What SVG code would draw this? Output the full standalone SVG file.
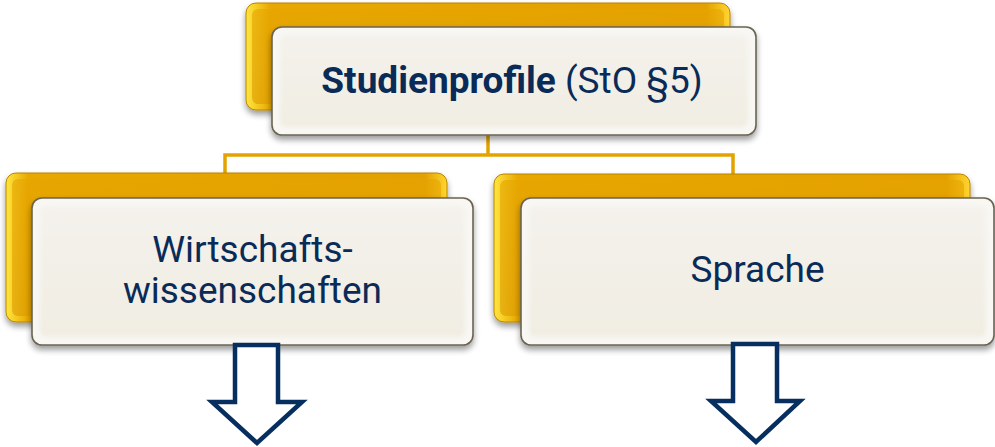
<svg xmlns="http://www.w3.org/2000/svg" width="995" height="447" viewBox="0 0 995 447">
<defs>
<linearGradient id="gold" x1="0" y1="0" x2="0" y2="1">
<stop offset="0" stop-color="#E6A400"/>
<stop offset="1" stop-color="#DB9A00"/>
</linearGradient>
<linearGradient id="goldEdge" x1="0" y1="0" x2="1" y2="0">
<stop offset="0" stop-color="#FFE640"/>
<stop offset="0.05" stop-color="#E8A800"/>
<stop offset="0.95" stop-color="#E3A000"/>
<stop offset="1" stop-color="#FFD630"/>
</linearGradient>
<linearGradient id="face" x1="0" y1="0" x2="0" y2="1">
<stop offset="0" stop-color="#F4F2EC"/>
<stop offset="1" stop-color="#F1EDE3"/>
</linearGradient>
<filter id="shadow" x="-10%" y="-20%" width="120%" height="150%">
<feGaussianBlur in="SourceAlpha" stdDeviation="3"/>
<feOffset dx="0" dy="4" result="b"/>
<feComponentTransfer><feFuncA type="linear" slope="0.4"/></feComponentTransfer>
<feMerge><feMergeNode/><feMergeNode in="SourceGraphic"/></feMerge>
</filter>
<filter id="soft" x="-5%" y="-5%" width="110%" height="110%">
<feGaussianBlur stdDeviation="2"/>
</filter>
</defs>
<style>
.back{fill:url(#goldEdge);stroke:#B88400;stroke-width:1}
.front{fill:#F8F7F3;stroke:#6A6450;stroke-width:1.6}
.inner{fill:url(#face)}
.lbl{font-family:Roboto,"Liberation Sans",sans-serif;font-size:37px;fill:#0A2B57;text-anchor:middle}
.conn{fill:none;stroke:#E5A300;stroke-width:3.5}
.arrow{fill:#FFFFFF;stroke:#062E5E;stroke-width:4.5;stroke-linejoin:miter}
</style>

<g id="connectors">
<path class="conn" d="M488 135 V155 M225 174 V155 H733 V174"/>
</g>

<g id="node-top">
<rect class="back" x="246" y="3" width="484" height="107" rx="10" filter="url(#shadow)"/>
<rect x="252" y="9" width="472" height="95" rx="6" fill="url(#gold)" opacity="0.6"/>
<rect class="front" x="272" y="27" width="484" height="108" rx="10" filter="url(#shadow)"/>
<rect class="inner" x="280" y="35" width="468" height="92" rx="6" filter="url(#soft)"/>
<text class="lbl" x="512" y="93"><tspan font-weight="bold">Studienprofile</tspan> (StO §5)</text>
</g>

<g id="node-wiwi">
<rect class="back" x="6" y="173" width="441" height="149" rx="10" filter="url(#shadow)"/>
<rect x="12" y="179" width="429" height="137" rx="6" fill="url(#gold)" opacity="0.6"/>
<rect class="front" x="32" y="198" width="441" height="147" rx="10" filter="url(#shadow)"/>
<rect class="inner" x="40" y="206" width="425" height="131" rx="6" filter="url(#soft)"/>
<text class="lbl" x="252.5" y="262">Wirtschafts-</text>
<text class="lbl" x="252.5" y="303">wissenschaften</text>
</g>

<g id="node-sprache">
<rect class="back" x="494" y="174" width="476" height="148" rx="10" filter="url(#shadow)"/>
<rect x="500" y="180" width="464" height="136" rx="6" fill="url(#gold)" opacity="0.6"/>
<rect class="front" x="521" y="198" width="473" height="147" rx="10" filter="url(#shadow)"/>
<rect class="inner" x="529" y="206" width="457" height="131" rx="6" filter="url(#soft)"/>
<text class="lbl" x="757.5" y="282">Sprache</text>
</g>

<g id="arrow-left">
<path class="arrow" d="M235 345 H278 V402 H302 L257 443 L212 402 H235 Z"/>
</g>
<g id="arrow-right">
<path class="arrow" d="M733 344 H777 V401 H800 L756 442 L711 401 H733 Z"/>
</g>
</svg>
